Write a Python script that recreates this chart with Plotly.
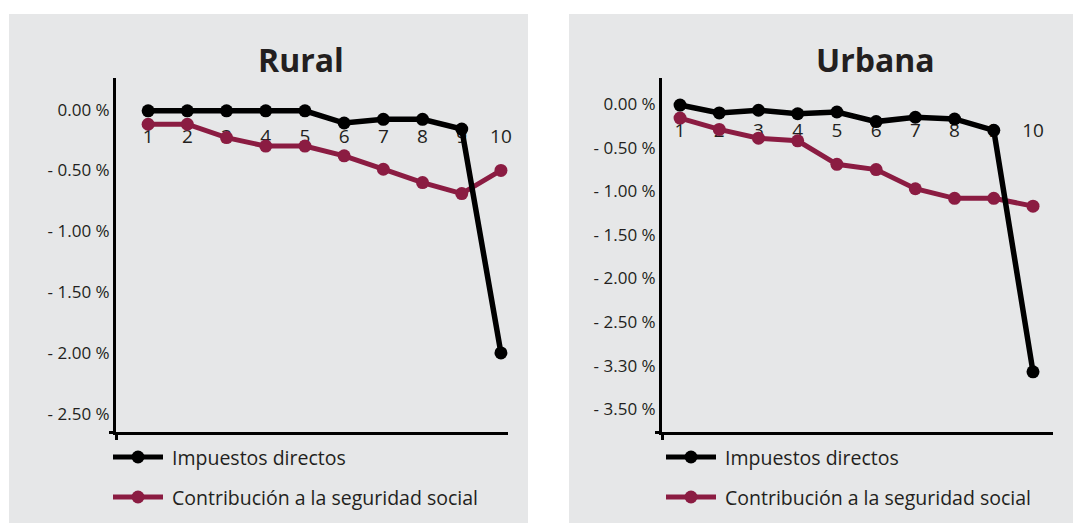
import plotly.graph_objects as go

# ---- data -------------------------------------------------------------
deciles = list(range(1, 11))
decile_labels = [str(d) for d in deciles]
series_names = ["Impuestos directos", "Contribución a la seguridad social"]

rural_impuestos = [-0.01, -0.01, -0.01, -0.01, -0.01, -0.11, -0.08, -0.08, -0.16, -2.00]
rural_contrib = [-0.12, -0.12, -0.23, -0.30, -0.30, -0.38, -0.49, -0.60, -0.69, -0.50]

urbana_impuestos = [-0.01, -0.10, -0.07, -0.11, -0.09, -0.20, -0.15, -0.17, -0.30, -3.07]
urbana_contrib = [-0.16, -0.29, -0.39, -0.42, -0.69, -0.75, -0.97, -1.08, -1.08, -1.17]

rural_tickvals = [0.0, -0.5, -1.0, -1.5, -2.0, -2.5]
rural_ticktext = ["0.00 %", "- 0.50 %", "- 1.00 %", "- 1.50 %", "- 2.00 %", "- 2.50 %"]
urbana_tickvals = [0.0, -0.5, -1.0, -1.5, -2.0, -2.5, -3.0, -3.5]
urbana_ticktext = ["0.00 %", "- 0.50 %", "- 1.00 %", "- 1.50 %", "- 2.00 %",
                   "- 2.50 %", "- 3.30 %", "- 3.50 %"]

# ---- style ------------------------------------------------------------
W, H = 1073, 523
FONT = "Open Sans"
TXT = "#231f20"
PANEL = "#e6e7e8"
BLACK = "#000000"
WINE = "#8b1c42"
colors = [BLACK, WINE]


def fx(x):
    return x / W


def fy(y):
    return 1 - y / H


panels = [
    dict(title="Rural", title_x=301, bg=(9, 528), plot=(116, 508), xr=(0.18, 10.18),
         yr=(-2.65, 0.26), tv=rural_tickvals, tt=rural_ticktext,
         ys=[rural_impuestos, rural_contrib], leg_x=113, lab_px=29),
    dict(title="Urbana", title_x=875, bg=(569, 1073), plot=(662, 1053), xr=(0.54, 10.51),
         yr=(-3.76, 0.30), tv=urbana_tickvals, tt=urbana_ticktext,
         ys=[urbana_impuestos, urbana_contrib], leg_x=666, lab_px=28),
]
PLOT_TOP, PLOT_BOTTOM = 78, 432

fig = go.Figure()
shapes, annotations = [], []
layout_axes = {}

for i, p in enumerate(panels):
    n = "" if i == 0 else str(i + 1)
    xa, ya = "x" + n, "y" + n
    plot_h = PLOT_BOTTOM - PLOT_TOP
    lab_off = p["lab_px"] * (p["yr"][1] - p["yr"][0]) / plot_h

    # decile labels sitting just under the zero line (drawn first, under the lines)
    fig.add_trace(go.Scatter(
        x=deciles, y=[-lab_off] * len(deciles), text=decile_labels, mode="text",
        textfont=dict(family=FONT, size=19, color=TXT), textposition="middle center",
        cliponaxis=False, xaxis=xa, yaxis=ya, showlegend=False, hoverinfo="skip"))

    # series: contribution first so the direct-tax line crosses on top
    for k in (1, 0):
        fig.add_trace(go.Scatter(
            x=deciles, y=p["ys"][k], mode="lines+markers", name=series_names[k],
            line=dict(color=colors[k], width=5.5 if k == 0 else 5),
            marker=dict(color=colors[k], size=13),
            cliponaxis=False, xaxis=xa, yaxis=ya, showlegend=False))

    layout_axes["xaxis" + n] = dict(
        domain=[fx(p["plot"][0]), fx(p["plot"][1])], range=list(p["xr"]),
        showgrid=False, zeroline=False, showline=True, linecolor=BLACK, linewidth=3,
        tickmode="array", tickvals=[p["xr"][0]], showticklabels=False,
        ticks="outside", ticklen=5, tickwidth=3, tickcolor=BLACK,
        anchor=ya, fixedrange=True)
    layout_axes["yaxis" + n] = dict(
        domain=[fy(PLOT_BOTTOM), fy(PLOT_TOP)], range=list(p["yr"]),
        showgrid=False, zeroline=False, showline=True, linecolor=BLACK, linewidth=3,
        tickmode="array", tickvals=p["tv"], ticktext=p["tt"], ticks="",
        tickfont=dict(family=FONT, size=17, color=TXT),
        minor=dict(tickmode="array", tickvals=[p["yr"][0]], ticks="outside",
                   ticklen=4, tickwidth=3, tickcolor=BLACK),
        anchor=xa, fixedrange=True)

    # grey panel
    shapes.append(dict(type="rect", xref="paper", yref="paper", layer="below",
                       x0=fx(p["bg"][0]), x1=fx(p["bg"][1]), y0=0, y1=fy(14),
                       fillcolor=PANEL, line=dict(width=0)))

    # panel title
    annotations.append(dict(text="<b>%s</b>" % p["title"], xref="paper", yref="paper",
                            x=fx(p["title_x"]), y=fy(60), xanchor="center",
                            yanchor="middle", showarrow=False,
                            font=dict(family=FONT, size=32, color=TXT)))

    # legend
    for k, ly in enumerate((457, 497)):
        lx = p["leg_x"]
        shapes.append(dict(type="line", xref="paper", yref="paper",
                           x0=fx(lx), x1=fx(lx + 50), y0=fy(ly), y1=fy(ly),
                           line=dict(color=colors[k], width=5)))
        shapes.append(dict(type="circle", xref="paper", yref="paper",
                           xsizemode="pixel", ysizemode="pixel",
                           xanchor=fx(lx + 25), yanchor=fy(ly),
                           x0=-6.5, x1=6.5, y0=-6.5, y1=6.5,
                           fillcolor=colors[k], line=dict(width=0)))
        annotations.append(dict(text=series_names[k], xref="paper", yref="paper",
                                x=fx(lx + 57), y=fy(ly), xanchor="left",
                                yanchor="middle", showarrow=False,
                                font=dict(family=FONT, size=19.5, color=TXT)))

fig.update_layout(
    width=W, height=H, margin=dict(l=0, r=0, t=0, b=0),
    paper_bgcolor="white", plot_bgcolor=PANEL,
    shapes=shapes, annotations=annotations, showlegend=False,
    **layout_axes)

fig.write_html("out.html", config={"displayModeBar": False})
